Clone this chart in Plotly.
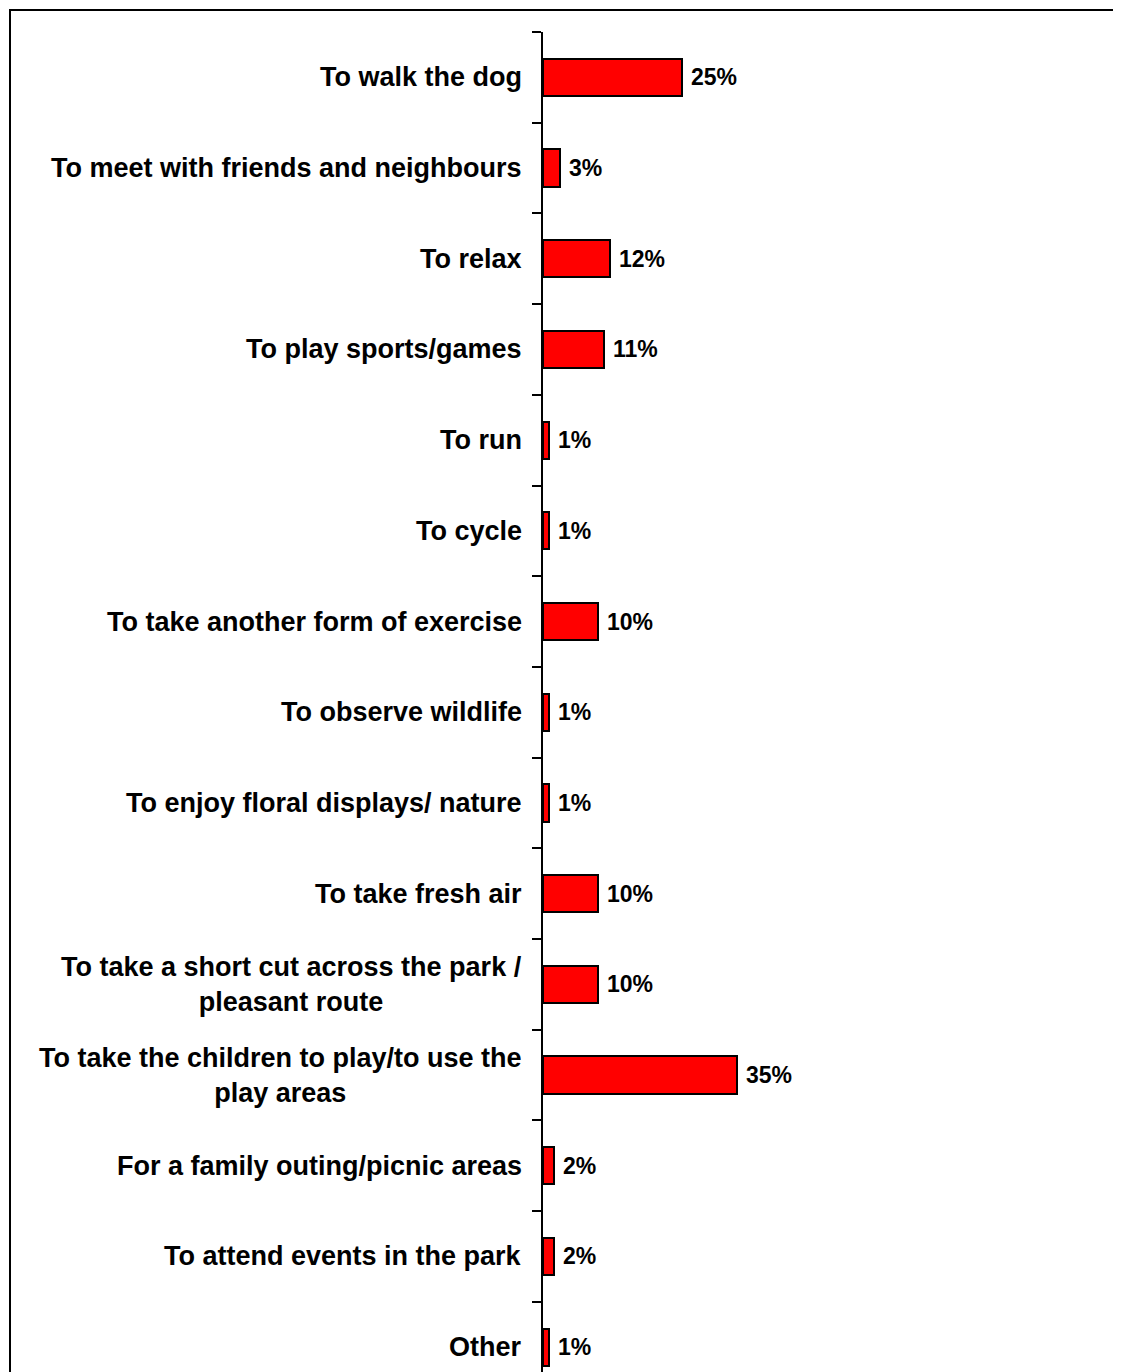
import plotly.graph_objects as go

categories = [
    "To walk the dog",
    "To meet with friends and neighbours",
    "To relax",
    "To play sports/games",
    "To run",
    "To cycle",
    "To take another form of exercise",
    "To observe wildlife",
    "To enjoy floral displays/ nature",
    "To take fresh air",
    "To take a short cut across the park /<br>pleasant route",
    "To take the children to play/to use the<br>play areas",
    "For a family outing/picnic areas",
    "To attend events in the park",
    "Other",
]
values = [25, 3, 12, 11, 1, 1, 10, 1, 1, 10, 10, 35, 2, 2, 1]

# the page body adds an 8px margin, so pixel targets are shifted back by it
OFF = 8
W, H = 1121, 1372
L, R, T, B = 543 - OFF, 20, 32 - OFF, 0
pw, ph = W - L - R, H - T - B
cat_px = 90.7  # height of one category band
font = "Arial, Liberation Sans, sans-serif"

fig = go.Figure(go.Bar(
    x=values,
    y=list(range(len(categories))),
    orientation="h",
    width=0.41,
    marker=dict(color="#FF0000", line=dict(color="black", width=2)),
))

# category labels (centred multi-line, right edge next to the axis)
for i, c in enumerate(categories):
    fig.add_annotation(x=0, y=i, xref="x", yref="y", text=c, showarrow=False,
                       xanchor="right", align="center", xshift=-19,
                       font=dict(family=font, size=27, color="black", weight="bold"))

# value labels
for i, v in enumerate(values):
    fig.add_annotation(x=v, y=i, xref="x", yref="y", text=f"{v}%", showarrow=False,
                       xanchor="left", xshift=7,
                       font=dict(family=font, size=23, color="black", weight="bold"))

# outer frame (right and bottom edges fall outside the picture)
fig.add_shape(type="rect", xref="paper", yref="paper",
              x0=(10 - OFF - L) / pw, x1=(W + 10 - L) / pw,
              y0=-0.1, y1=1 + (T - (10 - OFF)) / ph,
              line=dict(color="black", width=2))

n = len(categories)
fig.update_yaxes(
    range=[-0.5 + ph / cat_px, -0.5],
    tickmode="array", tickvals=[i - 0.5 for i in range(n + 1)],
    showticklabels=False, ticks="outside", ticklen=9, tickwidth=2, tickcolor="black",
    showline=True, linecolor="black", linewidth=2, showgrid=False, zeroline=False,
)
fig.update_xaxes(range=[0, 102], visible=False)

fig.update_layout(
    width=W, height=H,
    margin=dict(l=L, r=R, t=T, b=B),
    plot_bgcolor="white", paper_bgcolor="white",
    showlegend=False,
    bargap=0,
)

fig.write_html("out.html")
